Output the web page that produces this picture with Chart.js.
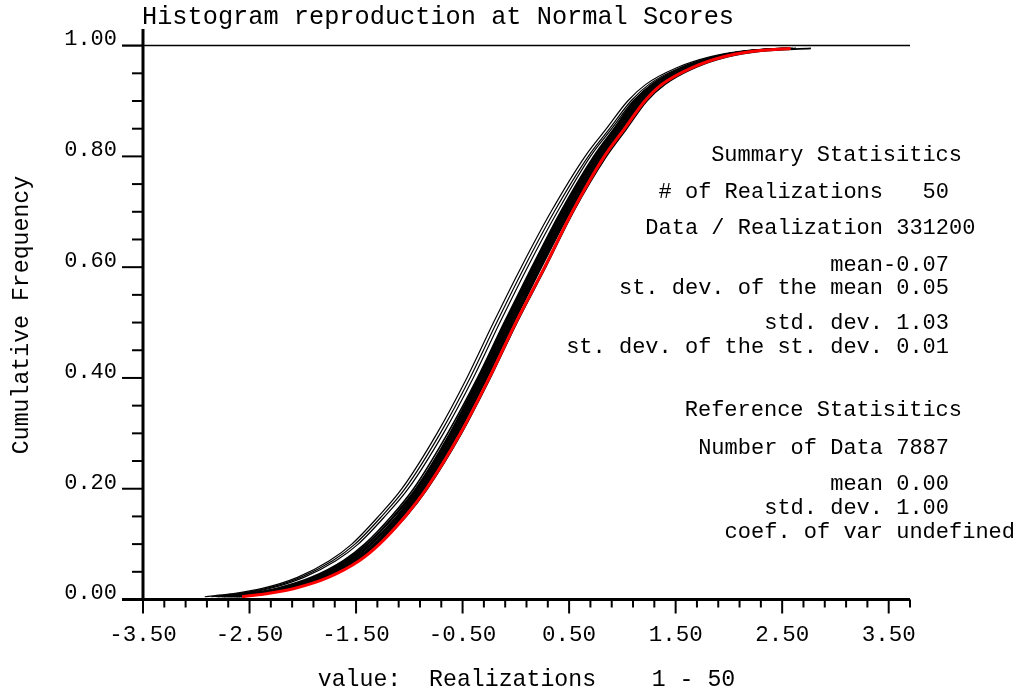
<!DOCTYPE html>
<html>
<head>
<meta charset="utf-8">
<script src="https://cdn.jsdelivr.net/npm/chart.js@4.4.1/dist/chart.umd.min.js"></script>
<style>
  html, body { margin: 0; padding: 0; background: #ffffff; }
  canvas { display: block; }
</style>
</head>
<body>
<canvas id="cdf" width="1023" height="693"></canvas>
<script>
// Cumulative frequency levels at which every curve is sampled
const cumFreq = [0.005, 0.01, 0.02, 0.04, 0.07, 0.10, 0.15, 0.20, 0.30, 0.40, 0.50,
                 0.60, 0.70, 0.80, 0.85, 0.90, 0.93, 0.96, 0.98, 0.99, 0.995];

// Reference (declustered data) normal-score values at those levels
const refValues = [-2.57, -2.36, -2.08, -1.76, -1.47, -1.28, -1.04, -0.84, -0.52, -0.25, 0.00,
                   0.27, 0.53, 0.83, 1.02, 1.21, 1.37, 1.65, 1.95, 2.23, 2.58];

// Realization normal-score values at the same levels
const realA  = [-2.92, -2.68, -2.38, -2.05, -1.75, -1.54, -1.29, -1.07, -0.74, -0.46, -0.21, 0.05, 0.33, 0.65, 0.85, 1.05, 1.22, 1.51, 1.83, 2.12, 2.46];
const realB  = [-2.86, -2.63, -2.34, -2.02, -1.72, -1.51, -1.26, -1.04, -0.71, -0.43, -0.18, 0.08, 0.36, 0.68, 0.88, 1.08, 1.25, 1.54, 1.86, 2.15, 2.49];
const realC  = [-2.82, -2.60, -2.31, -1.99, -1.69, -1.48, -1.23, -1.01, -0.68, -0.40, -0.15, 0.11, 0.39, 0.70, 0.90, 1.10, 1.27, 1.56, 1.88, 2.17, 2.51];
const realD1 = [-2.80, -2.55, -2.25, -1.92, -1.62, -1.42, -1.17, -0.96, -0.64, -0.36, -0.11, 0.15, 0.42, 0.73, 0.92, 1.11, 1.28, 1.56, 1.87, 2.16, 2.50];
const realD2 = [-2.76, -2.53, -2.23, -1.90, -1.60, -1.40, -1.15, -0.94, -0.62, -0.35, -0.10, 0.16, 0.43, 0.74, 0.93, 1.12, 1.29, 1.57, 1.88, 2.17, 2.52];
const realD3 = [-2.74, -2.51, -2.21, -1.88, -1.59, -1.39, -1.14, -0.93, -0.61, -0.34, -0.09, 0.17, 0.44, 0.75, 0.94, 1.13, 1.30, 1.58, 1.89, 2.18, 2.53];
const realD4 = [-2.71, -2.49, -2.19, -1.86, -1.57, -1.37, -1.12, -0.92, -0.60, -0.33, -0.08, 0.18, 0.45, 0.76, 0.95, 1.14, 1.31, 1.59, 1.90, 2.19, 2.54];
const realD5 = [-2.69, -2.47, -2.17, -1.85, -1.56, -1.36, -1.11, -0.91, -0.59, -0.32, -0.07, 0.19, 0.46, 0.77, 0.96, 1.15, 1.32, 1.60, 1.91, 2.20, 2.55];
const realD6 = [-2.67, -2.45, -2.16, -1.84, -1.55, -1.35, -1.10, -0.90, -0.58, -0.31, -0.06, 0.20, 0.47, 0.78, 0.97, 1.16, 1.33, 1.61, 1.92, 2.20, 2.56];
const realD7 = [-2.65, -2.44, -2.14, -1.82, -1.53, -1.33, -1.09, -0.89, -0.57, -0.30, -0.05, 0.21, 0.48, 0.79, 0.98, 1.17, 1.34, 1.62, 1.93, 2.21, 2.57];
const realD8 = [-2.63, -2.42, -2.13, -1.81, -1.52, -1.32, -1.08, -0.88, -0.56, -0.29, -0.04, 0.22, 0.49, 0.80, 0.99, 1.18, 1.35, 1.63, 1.94, 2.22, 2.58];
const realD9 = [-2.62, -2.41, -2.12, -1.80, -1.51, -1.31, -1.07, -0.87, -0.55, -0.28, -0.03, 0.23, 0.50, 0.81, 1.00, 1.19, 1.36, 1.64, 1.95, 2.23, 2.60];
const realD10= [-2.60, -2.39, -2.10, -1.79, -1.50, -1.30, -1.06, -0.86, -0.54, -0.27, -0.02, 0.24, 0.51, 0.82, 1.01, 1.20, 1.37, 1.65, 1.96, 2.25, 2.63];
const realE  = [-2.58, -2.37, -2.08, -1.77, -1.48, -1.28, -1.03, -0.83, -0.51, -0.24, 0.01, 0.28, 0.54, 0.85, 1.04, 1.23, 1.40, 1.68, 1.99, 2.30, 2.77];

const realizations = [realA, realB, realC, realD1, realD2, realD3, realD4, realD5,
                      realD6, realD7, realD8, realD9, realD10, realE];

// Axis labels
const xTickLabels = ['-3.50', '-2.50', '-1.50', '-0.50', '0.50', '1.50', '2.50', '3.50'];
const yTickLabels = ['0.00', '0.20', '0.40', '0.60', '0.80', '1.00'];
const titleText = 'Histogram reproduction at Normal Scores';
const xTitle = 'value:  Realizations    1 - 50';
const yTitle = 'Cumulative Frequency';

// Statistics panel (values keep their fixed-width field padding)
const summaryHeader = 'Summary Statisitics';
const summaryLabels = ['# of Realizations', 'Data / Realization', 'mean', 'st. dev. of the mean', 'std. dev.', 'st. dev. of the st. dev.'];
const summaryValues = ['   50', ' 331200', '-0.07', ' 0.05', ' 1.03', ' 0.01'];
const referenceHeader = 'Reference Statisitics';
const referenceLabels = ['Number of Data', 'mean', 'std. dev.', 'coef. of var'];
const referenceValues = [' 7887', ' 0.00', ' 1.00', ' undefined'];

const MONO = '"Liberation Mono", "DejaVu Sans Mono", monospace';

function toPoints(values) {
  return values.map((v, i) => ({ x: v, y: cumFreq[i] }));
}

const datasets = realizations.map((r, k) => ({
  data: toPoints(r),
  borderColor: '#000000',
  borderWidth: k < 3 ? 1.2 : 1.6,
  order: 1
}));
datasets.unshift({
  data: toPoints(refValues),
  borderColor: '#ff0000',
  borderWidth: 3,
  order: 0
});
datasets.forEach(d => {
  d.showLine = true;
  d.pointRadius = 0;
  d.fill = false;
  d.cubicInterpolationMode = 'monotone';
});

// x ticks every 0.2 from -3.5 to 3.7, labelled every 1.0
const xTickValues = [];
for (let i = 0; i <= 36; i++) xTickValues.push(Math.round((-3.5 + 0.2 * i) * 10) / 10);
// y ticks every 0.05, labelled every 0.2
const yTickValues = [];
for (let i = 0; i <= 20; i++) yTickValues.push(Math.round(i * 5) / 100);

const frame = {
  id: 'frame',
  afterDraw(chart) {
    const ctx = chart.ctx;
    const xs = chart.scales.x, ys = chart.scales.y;
    const x0 = xs.getPixelForValue(-3.5);
    const xEnd = xs.getPixelForValue(3.7);
    const yZero = ys.getPixelForValue(0);
    const yOne = ys.getPixelForValue(1);
    const yTop = ys.getPixelForValue(1.03);
    ctx.save();
    ctx.strokeStyle = '#000';
    ctx.lineCap = 'butt';

    // line at cumulative frequency 1
    ctx.lineWidth = 1.5;
    ctx.beginPath();
    ctx.moveTo(x0 - 21, yOne); ctx.lineTo(xEnd, yOne);
    ctx.stroke();

    // y tick marks
    ctx.lineWidth = 2;
    yTickValues.forEach((v, i) => {
      const p = ys.getPixelForValue(v);
      const len = (i % 4 === 0) ? 21 : 11;
      ctx.beginPath(); ctx.moveTo(x0 - len, p); ctx.lineTo(x0, p); ctx.stroke();
    });
    // x tick marks
    xTickValues.forEach((v, i) => {
      const p = xs.getPixelForValue(v);
      const len = (i % 5 === 0) ? 14 : 8;
      ctx.beginPath(); ctx.moveTo(p, yZero); ctx.lineTo(p, yZero + len); ctx.stroke();
    });

    // axis lines
    ctx.lineWidth = 3;
    ctx.beginPath();
    ctx.moveTo(x0, yTop); ctx.lineTo(x0, yZero + 1.5);
    ctx.moveTo(x0 - 21, yZero); ctx.lineTo(xEnd, yZero);
    ctx.stroke();

    // titles
    ctx.fillStyle = '#000';
    ctx.textBaseline = 'middle';
    ctx.font = '25.3px ' + MONO;
    ctx.textAlign = 'left';
    ctx.fillText(titleText, 142, 17);

    ctx.font = '23.2px ' + MONO;
    ctx.textAlign = 'center';
    ctx.fillText(xTitle, (x0 + xEnd) / 2, 680);

    ctx.save();
    ctx.translate(22, 315);
    ctx.rotate(-Math.PI / 2);
    ctx.fillText(yTitle, 0, 0);
    ctx.restore();

    // statistics panel
    ctx.font = '22px ' + MONO;
    const labelRight = 883, valueLeft = 883, headerRight = 962;
    ctx.textAlign = 'right';
    ctx.fillText(summaryHeader, headerRight, 155);
    ctx.fillText(referenceHeader, headerRight, 410);
    const sumRows = [192, 228, 265, 288, 323, 347];
    const refRows = [448, 484, 508, 532];
    summaryLabels.forEach((t, i) => {
      ctx.textAlign = 'right'; ctx.fillText(t, labelRight, sumRows[i]);
      ctx.textAlign = 'left'; ctx.fillText(summaryValues[i], valueLeft, sumRows[i]);
    });
    referenceLabels.forEach((t, i) => {
      ctx.textAlign = 'right'; ctx.fillText(t, labelRight, refRows[i]);
      ctx.textAlign = 'left'; ctx.fillText(referenceValues[i], valueLeft, refRows[i]);
    });
    ctx.restore();
  }
};

new Chart(document.getElementById('cdf'), {
  type: 'scatter',
  data: { datasets },
  options: {
    responsive: false,
    animation: false,
    devicePixelRatio: 1,
    layout: { padding: { left: 0, right: 113, top: 29, bottom: 0 } },
    plugins: { legend: { display: false }, tooltip: { enabled: false }, title: { display: false } },
    elements: { line: { borderCapStyle: 'butt', borderJoinStyle: 'round' } },
    scales: {
      x: {
        type: 'linear', min: -3.5, max: 3.7,
        afterFit(s) { s.height = 93.5; s.paddingLeft = 0; s.paddingRight = 0; },
        afterBuildTicks(s) { s.ticks = xTickValues.map(v => ({ value: v })); },
        grid: { display: false, drawTicks: false },
        border: { display: false },
        ticks: {
          autoSkip: false, maxRotation: 0, minRotation: 0,
          padding: 22, color: '#000',
          font: { family: MONO, size: 22.5 },
          callback: (v, i) => (i % 5 === 0 ? xTickLabels[i / 5] : '')
        }
      },
      y: {
        type: 'linear', min: 0, max: 1.03,
        afterFit(s) { s.width = 143; s.paddingTop = 0; s.paddingBottom = 0; },
        afterBuildTicks(s) { s.ticks = yTickValues.map(v => ({ value: v })); },
        grid: { display: false, drawTicks: false },
        border: { display: false },
        ticks: {
          autoSkip: false, padding: 26, color: '#000', labelOffset: -6,
          font: { family: MONO, size: 22 },
          callback: (v, i) => (i % 4 === 0 ? yTickLabels[i / 4] : '')
        }
      }
    }
  },
  plugins: [frame]
});
</script>
</body>
</html>
